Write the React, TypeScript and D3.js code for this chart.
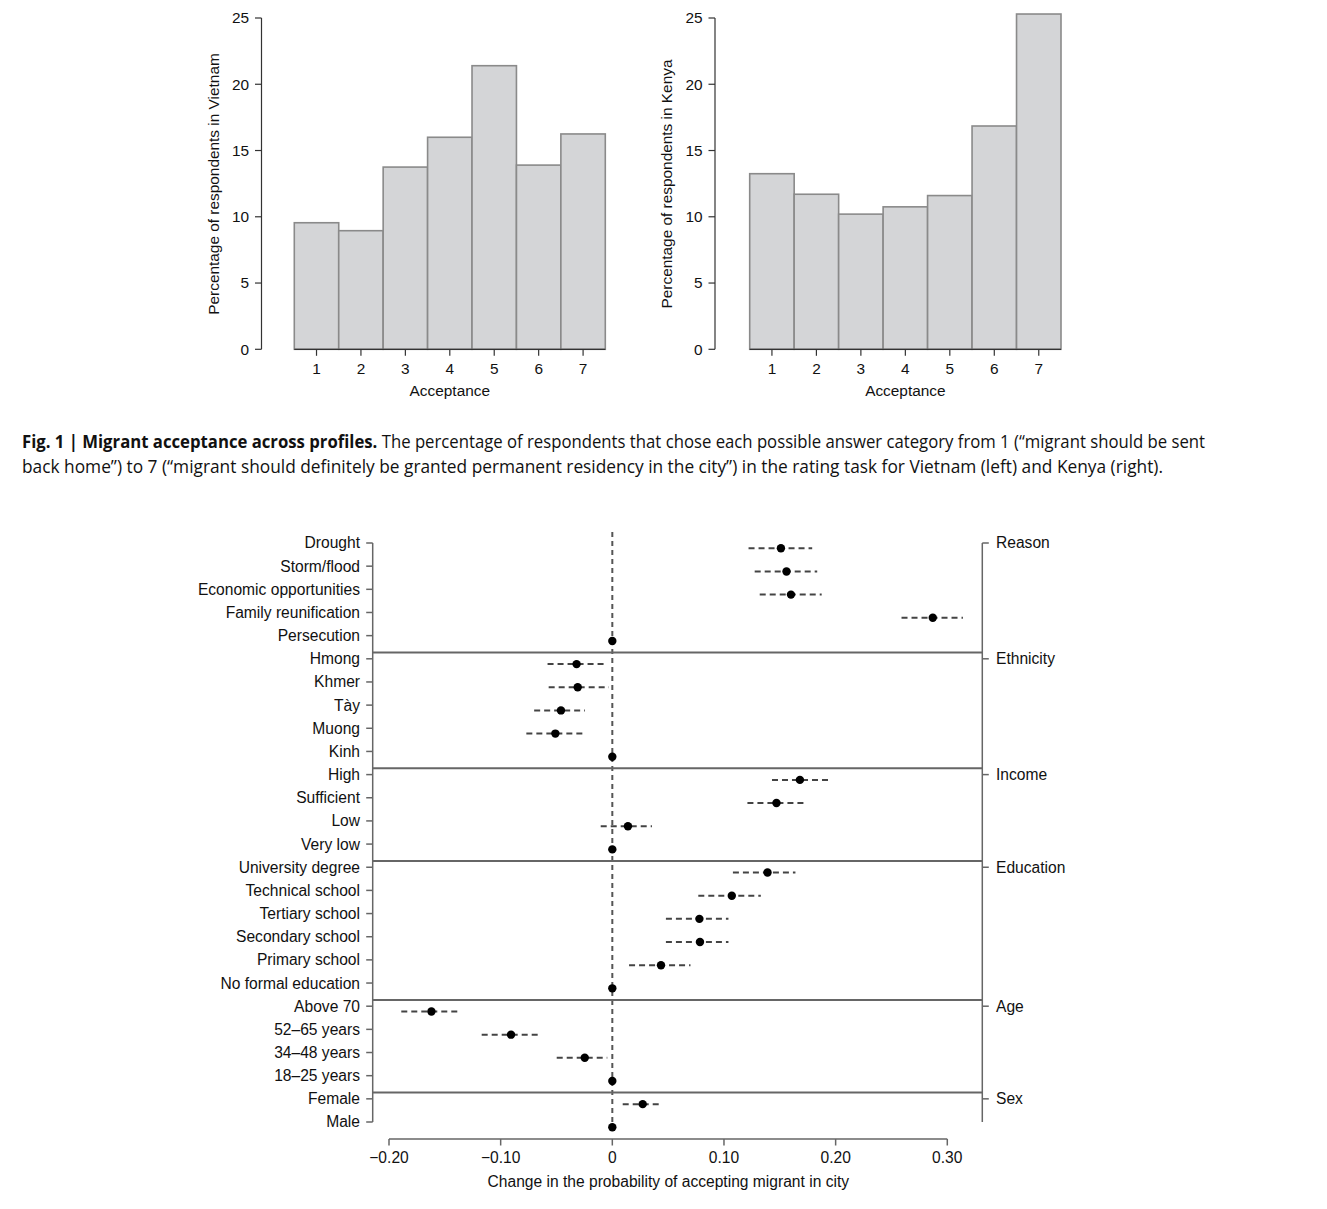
import React from "react";
import * as d3 from "d3";

// ---------- Data ----------
const acceptanceLevels = [1, 2, 3, 4, 5, 6, 7];
const vietnamPct = [9.55, 8.95, 13.75, 16.0, 21.4, 13.9, 16.25];
const kenyaPct = [13.25, 11.7, 10.2, 10.75, 11.6, 16.85, 25.3];
const histYTicks = [0, 5, 10, 15, 20, 25];

const profileLabels = [
  "Drought", "Storm/flood", "Economic opportunities", "Family reunification", "Persecution",
  "Hmong", "Khmer", "Tày", "Muong", "Kinh",
  "High", "Sufficient", "Low", "Very low",
  "University degree", "Technical school", "Tertiary school", "Secondary school", "Primary school", "No formal education",
  "Above 70", "52–65 years", "34–48 years", "18–25 years",
  "Female", "Male",
];
const estimates = [
  0.151, 0.156, 0.160, 0.287, 0,
  -0.032, -0.031, -0.046, -0.051, 0,
  0.168, 0.147, 0.014, 0,
  0.139, 0.107, 0.078, 0.0785, 0.0436, 0,
  -0.162, -0.0907, -0.0247, 0,
  0.0272, 0,
];
const lowerCI = [
  0.122, 0.1275, 0.132, 0.259, 0,
  -0.058, -0.057, -0.070, -0.077, 0,
  0.143, 0.121, -0.0104, 0,
  0.108, 0.077, 0.048, 0.048, 0.015, 0,
  -0.189, -0.117, -0.0498, 0,
  0.0093, 0,
];
const upperCI = [
  0.179, 0.1835, 0.1875, 0.314, 0,
  -0.0045, -0.003, -0.0245, -0.026, 0,
  0.194, 0.173, 0.0355, 0,
  0.164, 0.133, 0.104, 0.104, 0.070, 0,
  -0.1355, -0.0647, -0.0045, 0,
  0.0451, 0,
];
const groupNames = ["Reason", "Ethnicity", "Income", "Education", "Age", "Sex"];
const groupStarts = [0, 5, 10, 14, 20, 24];
const effectTicks = [-0.2, -0.1, 0, 0.1, 0.2, 0.3];
const effectTickLabels = ["−0.20", "−0.10", "0", "0.10", "0.20", "0.30"];

const captionBold = "Fig. 1 | Migrant acceptance across profiles.";
const captionLine1 =
  " The percentage of respondents that chose each possible answer category from 1 (“migrant should be sent";
const captionLine2 =
  "back home”) to 7 (“migrant should definitely be granted permanent residency in the city”) in the rating task for Vietnam (left) and Kenya (right).";

const FONT = "'Liberation Sans', Arial, Helvetica, sans-serif";
const CAPFONT = "'Liberation Sans Narrow', 'Open Sans', sans-serif";

// ---------- Histogram ----------
function Histogram({ values, axisX, x0, x1, yLabel, labelX }: any) {
  const y = d3.scaleLinear().domain([0, 25]).range([349.3, 18]);
  const x = d3.scaleBand<number>().domain(acceptanceLevels).range([x0, x1]).padding(0);
  const axisColor = "#333";
  return (
    <g fontFamily={FONT}>
      {acceptanceLevels.map((lvl, i) => (
        <rect
          key={lvl}
          x={x(lvl)!}
          y={y(values[i])}
          width={x.bandwidth()}
          height={y(0) - y(values[i])}
          fill="#d4d5d7"
          stroke="#8a8a8a"
          strokeWidth={1.6}
        />
      ))}
      {/* y axis */}
      <line x1={axisX} x2={axisX} y1={y(25)} y2={y(0)} stroke={axisColor} strokeWidth={1.2} />
      {histYTicks.map((t) => (
        <g key={t}>
          <line x1={axisX - 6.5} x2={axisX} y1={y(t)} y2={y(t)} stroke={axisColor} strokeWidth={1.2} />
          <text x={axisX - 12.5} y={y(t)} dy="0.35em" textAnchor="end" fontSize={15.4} fill="#111">
            {t}
          </text>
        </g>
      ))}
      {/* x axis */}
      <line x1={x0} x2={x1} y1={y(0)} y2={y(0)} stroke={axisColor} strokeWidth={1.2} />
      {acceptanceLevels.map((lvl) => {
        const cx = x(lvl)! + x.bandwidth() / 2;
        return (
          <g key={lvl}>
            <line x1={cx} x2={cx} y1={y(0)} y2={y(0) + 6.5} stroke={axisColor} strokeWidth={1.2} />
            <text x={cx} y={373.5} textAnchor="middle" fontSize={15.4} fill="#111">
              {lvl}
            </text>
          </g>
        );
      })}
      <text x={(x0 + x1) / 2} y={396} textAnchor="middle" fontSize={15.4} fill="#111">
        Acceptance
      </text>
      <text
        transform={`translate(${labelX},184) rotate(-90)`}
        textAnchor="middle"
        fontSize={15.4}
        fill="#111"
      >
        {yLabel}
      </text>
    </g>
  );
}

// ---------- Coefficient plot ----------
function CoefPlot() {
  const x = d3.scaleLinear().domain([-0.2, 0.3]).range([389, 947.3]);
  const firstY = 548.3;
  const step = 23.16;
  const y = d3
    .scalePoint<number>()
    .domain(profileLabels.map((_, i) => i))
    .range([firstY, firstY + step * (profileLabels.length - 1)]);
  const labelOffset = -5.3;
  const leftX = 372.7;
  const rightX = 982.3;
  const topY = y(0)! + labelOffset;
  const botY = y(profileLabels.length - 1)! + labelOffset;
  const axisColor = "#666";
  const separators = groupStarts.slice(1).map((s) => (y(s - 1)! + y(s)!) / 2);
  const axisY = 1139;
  const fs = 15.6;

  return (
    <g fontFamily={FONT}>
      {/* zero reference line */}
      <line x1={x(0)} x2={x(0)} y1={532} y2={1131} stroke="#555" strokeWidth={2} strokeDasharray="5,4" />
      {/* group separators */}
      {separators.map((sy, i) => (
        <line key={i} x1={leftX} x2={rightX} y1={sy} y2={sy} stroke={axisColor} strokeWidth={2} />
      ))}
      {/* left axis */}
      <line x1={leftX} x2={leftX} y1={topY} y2={botY} stroke={axisColor} strokeWidth={1.5} />
      {profileLabels.map((lab, i) => {
        const ty = y(i)! + labelOffset;
        return (
          <g key={lab}>
            <line x1={leftX - 6.5} x2={leftX} y1={ty} y2={ty} stroke={axisColor} strokeWidth={1.5} />
            <text x={360} y={ty} dy="0.35em" textAnchor="end" fontSize={fs} fill="#111">
              {lab}
            </text>
          </g>
        );
      })}
      {/* right axis */}
      <line x1={rightX} x2={rightX} y1={topY} y2={botY} stroke={axisColor} strokeWidth={1.5} />
      {groupNames.map((g, i) => {
        const ty = y(groupStarts[i])! + labelOffset;
        return (
          <g key={g}>
            <line x1={rightX} x2={rightX + 6.5} y1={ty} y2={ty} stroke={axisColor} strokeWidth={1.5} />
            <text x={996} y={ty} dy="0.35em" textAnchor="start" fontSize={fs} fill="#111">
              {g}
            </text>
          </g>
        );
      })}
      {/* CIs and points */}
      {profileLabels.map((lab, i) => {
        const py = y(i)!;
        return (
          <g key={lab}>
            {upperCI[i] !== lowerCI[i] && (
              <line
                x1={x(lowerCI[i])}
                x2={x(upperCI[i])}
                y1={py}
                y2={py}
                stroke="#444"
                strokeWidth={2}
                strokeDasharray="6,4"
              />
            )}
            <circle cx={x(estimates[i])} cy={py} r={4.2} fill="#000" />
          </g>
        );
      })}
      {/* bottom axis */}
      <line x1={x(-0.2)} x2={x(0.3)} y1={axisY} y2={axisY} stroke={axisColor} strokeWidth={1.5} />
      {effectTicks.map((t, i) => (
        <g key={t}>
          <line x1={x(t)} x2={x(t)} y1={axisY} y2={axisY + 6.5} stroke={axisColor} strokeWidth={1.5} />
          <text x={x(t)} y={1162.5} textAnchor="middle" fontSize={fs} fill="#111">
            {effectTickLabels[i]}
          </text>
        </g>
      ))}
      <text x={668.3} y={1187} textAnchor="middle" fontSize={fs} fill="#111">
        Change in the probability of accepting migrant in city
      </text>
    </g>
  );
}

export default function App() {
  return (
    <svg
      width={1327}
      height={1209}
      viewBox="0 0 1327 1209"
      style={{ position: "absolute", left: 0, top: 0, background: "#fff" }}
    >
      <rect x={0} y={0} width={1327} height={1209} fill="#fff" />
      <Histogram
        values={vietnamPct}
        axisX={261.5}
        x0={294.3}
        x1={605.3}
        yLabel="Percentage of respondents in Vietnam"
        labelX={219}
      />
      <Histogram
        values={kenyaPct}
        axisX={715}
        x0={749.7}
        x1={1061}
        yLabel="Percentage of respondents in Kenya"
        labelX={672}
      />
      <text x={22} y={448} fontFamily={CAPFONT} fontSize={18.5} fill="#111" textLength={1183} lengthAdjust="spacingAndGlyphs">
        <tspan fontWeight={700}>{captionBold}</tspan>
        <tspan>{captionLine1}</tspan>
      </text>
      <text x={22} y={472.5} fontFamily={CAPFONT} fontSize={18.5} fill="#111" textLength={1141} lengthAdjust="spacingAndGlyphs">
        {captionLine2}
      </text>
      <CoefPlot />
    </svg>
  );
}
